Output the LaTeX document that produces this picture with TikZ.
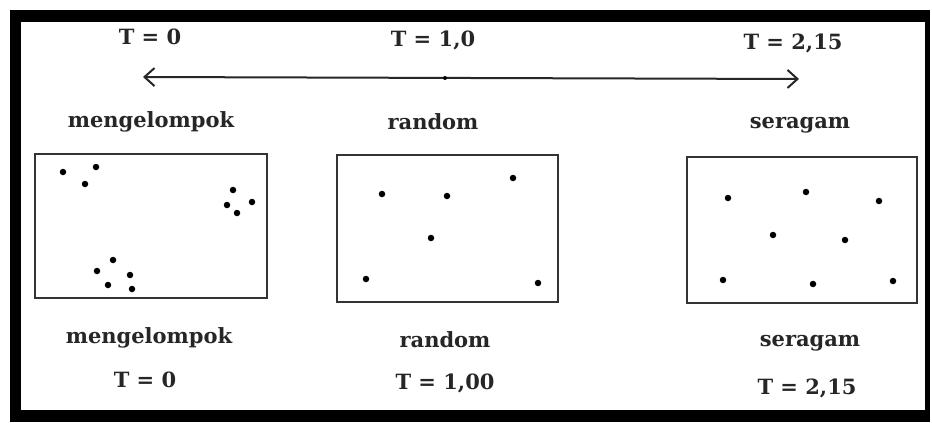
\documentclass[tikz,border=0pt]{standalone}
\usepackage{fontspec}
\setmainfont{DejaVu Serif}
\usetikzlibrary{arrows.meta}
\begin{document}
\begin{tikzpicture}[x=1pt,y=-1pt,
  lbl/.style={font=\fontsize{21}{24}\selectfont\bfseries, text=black!85, inner sep=0pt, anchor=center},
  panel/.style={draw=black!80, line width=2.6pt, inner sep=0pt},
  pt/.style={fill=black, draw=none, circle, minimum size=6.5pt, inner sep=0pt}]
\useasboundingbox (0,0) rectangle (932,423);
% outer frame
\fill[black] (10,10) rectangle (930,422);
\fill[white] (21,22) rectangle (925,410);
% top labels
\node[lbl] (t0) at (150,37) {T = 0};
\node[lbl] (t1) at (433,40) {T = 1,0};
\node[lbl] (t2) at (793,43) {T = 2,15};
% arrow
\coordinate (al) at (143,77);
\coordinate (ar) at (799,79);
\draw[line width=2pt, black!85, {Straight Barb[length=10pt,width=18pt,line width=2pt]}-{Straight Barb[length=10pt,width=18pt,line width=2pt]}] (al) -- (ar);
\node[pt, minimum size=4pt] (mid) at (445,78) {};
% middle labels
\node[lbl] (l1) at (151,122) {mengelompok};
\node[lbl] (l2) at (433,122) {random};
\node[lbl] (l3) at (800,125) {seragam};
% panels
\node[panel, minimum width=232pt, minimum height=144pt] (b1) at (151,226) {};
\node[panel, minimum width=221pt, minimum height=147pt] (b2) at (447.5,228.5) {};
\node[panel, minimum width=230pt, minimum height=146pt] (b3) at (802,230) {};
% dots box 1
\foreach \p [count=\i] in {(63,172),(96,167),(85,184),(233,190),(227,205),(252,202),(237,213),(113,260),(97,271),(130,275),(108,285),(132,289)}
  \node[pt] (d1\i) at \p {};
% dots box 2
\foreach \p [count=\i] in {(382,194),(447,196),(513,178),(431,238),(366,279),(538,283)}
  \node[pt] (d2\i) at \p {};
% dots box 3
\foreach \p [count=\i] in {(728,198),(806,192),(879,201),(773,235),(845,240),(723,280),(813,284),(893,281)}
  \node[pt] (d3\i) at \p {};
% bottom labels
\node[lbl] (m1) at (149,338) {mengelompok};
\node[lbl] (m2) at (445,340) {random};
\node[lbl] (m3) at (810,343) {seragam};
\node[lbl] (u1) at (145,380) {T = 0};
\node[lbl] (u2) at (445,383) {T = 1,00};
\node[lbl] (u3) at (807,388) {T = 2,15};
\end{tikzpicture}
\end{document}
